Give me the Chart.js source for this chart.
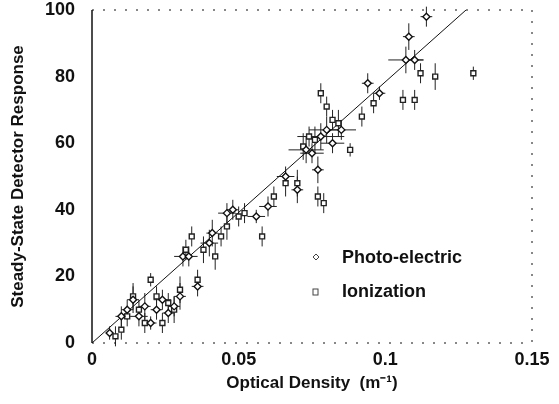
<!DOCTYPE html>
<html>
<head>
<meta charset="utf-8">
<script src="https://cdn.jsdelivr.net/npm/chart.js@4"></script>
<style>
  html, body { margin: 0; padding: 0; background: #fff; }
  #wrap { width: 559px; height: 404px; position: relative; }
</style>
</head>
<body>
<div id="wrap"><canvas id="detectorChart"></canvas></div>
<script>
// Photo-electric detector readings
const peX    = [0.006, 0.010, 0.012, 0.014, 0.016, 0.018, 0.020, 0.022, 0.024, 0.026, 0.028, 0.030, 0.031, 0.033, 0.036, 0.040, 0.041, 0.046, 0.048, 0.056, 0.060, 0.066, 0.070, 0.073, 0.075, 0.077, 0.078, 0.080, 0.082, 0.085, 0.094, 0.098, 0.107, 0.108, 0.110, 0.114];
const peY    = [3, 8, 10, 13, 8, 11, 6, 10, 13, 9, 11, 14, 26, 26, 17, 30, 33, 39, 40, 38, 41, 50, 46, 58, 57, 52, 62, 64, 60, 64, 78, 75, 85, 92, 85, 98];
const peXErr = [0.001, 0.002, 0.002, 0.002, 0.003, 0.002, 0.002, 0.002, 0.003, 0.002, 0.002, 0.002, 0.003, 0.003, 0.002, 0.003, 0.002, 0.003, 0.002, 0.003, 0.003, 0.003, 0.002, 0.006, 0.004, 0.002, 0.008, 0.006, 0.004, 0.005, 0.002, 0.002, 0.006, 0.002, 0.003, 0.002];
const peYErr = [2, 3, 3, 4, 3, 4, 2, 3, 3, 3, 3, 4, 3, 3, 3, 4, 4, 3, 3, 2, 3, 3, 4, 4, 3, 4, 4, 4, 3, 3, 3, 2, 4, 4, 3, 3];

// Ionization detector readings
const ionX    = [0.008, 0.010, 0.012, 0.014, 0.016, 0.018, 0.020, 0.022, 0.024, 0.026, 0.028, 0.030, 0.032, 0.034, 0.036, 0.038, 0.042, 0.044, 0.046, 0.050, 0.052, 0.058, 0.062, 0.066, 0.070, 0.072, 0.074, 0.076, 0.077, 0.079, 0.078, 0.080, 0.082, 0.084, 0.088, 0.092, 0.096, 0.106, 0.110, 0.112, 0.117, 0.130];
const ionY    = [2, 4, 8, 14, 10, 6, 19, 14, 6, 12, 10, 16, 28, 32, 19, 28, 26, 32, 35, 38, 39, 32, 44, 48, 48, 59, 62, 61, 44, 42, 75, 71, 67, 66, 58, 68, 72, 73, 73, 81, 80, 81];
const ionYErr = [3, 3, 3, 4, 3, 3, 2, 3, 3, 3, 4, 4, 3, 3, 3, 4, 4, 3, 4, 3, 3, 3, 3, 4, 4, 4, 3, 4, 3, 3, 3, 3, 3, 4, 2, 3, 3, 3, 3, 3, 4, 2];

// Fitted line end points
const fitX = [0, 0.1275];
const fitY = [0, 100];

const xTicks = [0, 0.05, 0.1, 0.15];
const yTicks = [0, 20, 40, 60, 80, 100];

const toPoints = (xs, ys) => xs.map((x, i) => ({ x: x, y: ys[i] }));

// Barras de error dibujadas con las escalas del gráfico
const errorBars = {
    id: 'errorBars',
    beforeDatasetsDraw(chart) {
        const ctx = chart.ctx;
        const xs = chart.scales.x, ys = chart.scales.y;
        ctx.save();
        ctx.strokeStyle = '#222';
        ctx.lineWidth = 1;
        chart.data.datasets.forEach(ds => {
            if (!ds.yErr) return;
            ds.data.forEach((p, i) => {
                const px = xs.getPixelForValue(p.x);
                const py = ys.getPixelForValue(p.y);
                const dy = ds.yErr[i];
                ctx.beginPath();
                ctx.moveTo(px, ys.getPixelForValue(p.y - dy));
                ctx.lineTo(px, ys.getPixelForValue(p.y + dy));
                if (ds.xErr) {
                    const dx = ds.xErr[i];
                    ctx.moveTo(xs.getPixelForValue(p.x - dx), py);
                    ctx.lineTo(xs.getPixelForValue(p.x + dx), py);
                }
                ctx.stroke();
            });
        });
        ctx.restore();
    }
};

// Marco del área: izquierda sólida, resto punteado
const frame = {
    id: 'frame',
    afterDraw(chart) {
        const { left, right, top, bottom } = chart.chartArea;
        const ctx = chart.ctx;
        ctx.save();
        ctx.strokeStyle = '#111';
        ctx.lineWidth = 1.5;
        ctx.beginPath();
        ctx.moveTo(left, top);
        ctx.lineTo(left, bottom);
        ctx.stroke();
        ctx.lineWidth = 1;
        ctx.setLineDash([2, 9]);
        ctx.beginPath();
        ctx.moveTo(left, top);
        ctx.lineTo(right, top);
        ctx.moveTo(right, top);
        ctx.lineTo(right, bottom);
        ctx.moveTo(left, bottom);
        ctx.lineTo(right, bottom);
        ctx.stroke();
        ctx.setLineDash([]);

        // Leyenda dentro del área
        ctx.font = 'bold 18px "Liberation Sans", Arial, sans-serif';
        ctx.fillStyle = '#111';
        ctx.textBaseline = 'middle';
        ctx.fillText('Photo-electric', 342, 258);
        ctx.fillText('Ionization', 342, 292);
        ctx.lineWidth = 1;
        ctx.strokeStyle = '#444';
        ctx.beginPath();
        ctx.moveTo(316, 254); ctx.lineTo(319, 257); ctx.lineTo(316, 260); ctx.lineTo(313, 257); ctx.closePath();
        ctx.stroke();
        ctx.strokeRect(313, 289, 5, 6);
        ctx.restore();
    }
};

new Chart(document.getElementById('detectorChart'), {
    type: 'scatter',
    data: {
        datasets: [
            {
                label: 'Photo-electric',
                data: toPoints(peX, peY),
                xErr: peXErr,
                yErr: peYErr,
                pointStyle: 'rectRot',
                pointRadius: 3.5,
                borderColor: '#111',
                borderWidth: 1.4,
                backgroundColor: 'rgba(255,255,255,1)'
            },
            {
                label: 'Ionization',
                data: toPoints(ionX, ionY),
                yErr: ionYErr,
                pointStyle: 'rect',
                pointRadius: 3.5,
                borderColor: '#222',
                borderWidth: 1.4,
                backgroundColor: 'rgba(255,255,255,1)'
            },
            {
                type: 'line',
                label: 'Fit',
                data: toPoints(fitX, fitY),
                borderColor: '#111',
                borderWidth: 1,
                pointRadius: 0,
                fill: false
            }
        ]
    },
    options: {
        responsive: true,
        maintainAspectRatio: false,
        animation: false,
        layout: { padding: { top: 10, right: 27, left: 8, bottom: 0 } },
        plugins: {
            legend: { display: false },
            tooltip: { enabled: false }
        },
        scales: {
            x: {
                type: 'linear',
                min: 0,
                max: 0.15,
                afterFit: s => { s.height = 61; s.paddingLeft = 0; s.paddingRight = 0; },
                afterBuildTicks: s => { s.ticks = xTicks.map(v => ({ value: v })); },
                grid: { display: false, drawTicks: false },
                border: { display: false },
                ticks: {
                    color: '#111',
                    padding: 6,
                    font: { family: '"Liberation Sans", Arial, sans-serif', size: 18, weight: 'bold' },
                    callback: v => String(v)
                },
                title: {
                    display: true,
                    text: 'Optical Density  (m\u207B\u00B9)',
                    color: '#111',
                    padding: { top: 0, bottom: 10 },
                    font: { family: '"Liberation Sans", Arial, sans-serif', size: 17, weight: 'bold' }
                }
            },
            y: {
                min: 0,
                max: 100,
                afterFit: s => { s.width = 84; s.paddingTop = 0; s.paddingBottom = 0; },
                afterBuildTicks: s => { s.ticks = yTicks.map(v => ({ value: v })); },
                grid: { display: false, drawTicks: false },
                border: { display: false },
                ticks: {
                    color: '#111',
                    padding: 17,
                    font: { family: '"Liberation Sans", Arial, sans-serif', size: 18, weight: 'bold' }
                },
                title: {
                    display: true,
                    text: 'Steady-State Detector Response',
                    color: '#111',
                    padding: { top: 0, bottom: 0 },
                    font: { family: '"Liberation Sans", Arial, sans-serif', size: 17, weight: 'bold' }
                }
            }
        }
    },
    plugins: [errorBars, frame]
});
</script>
</body>
</html>
